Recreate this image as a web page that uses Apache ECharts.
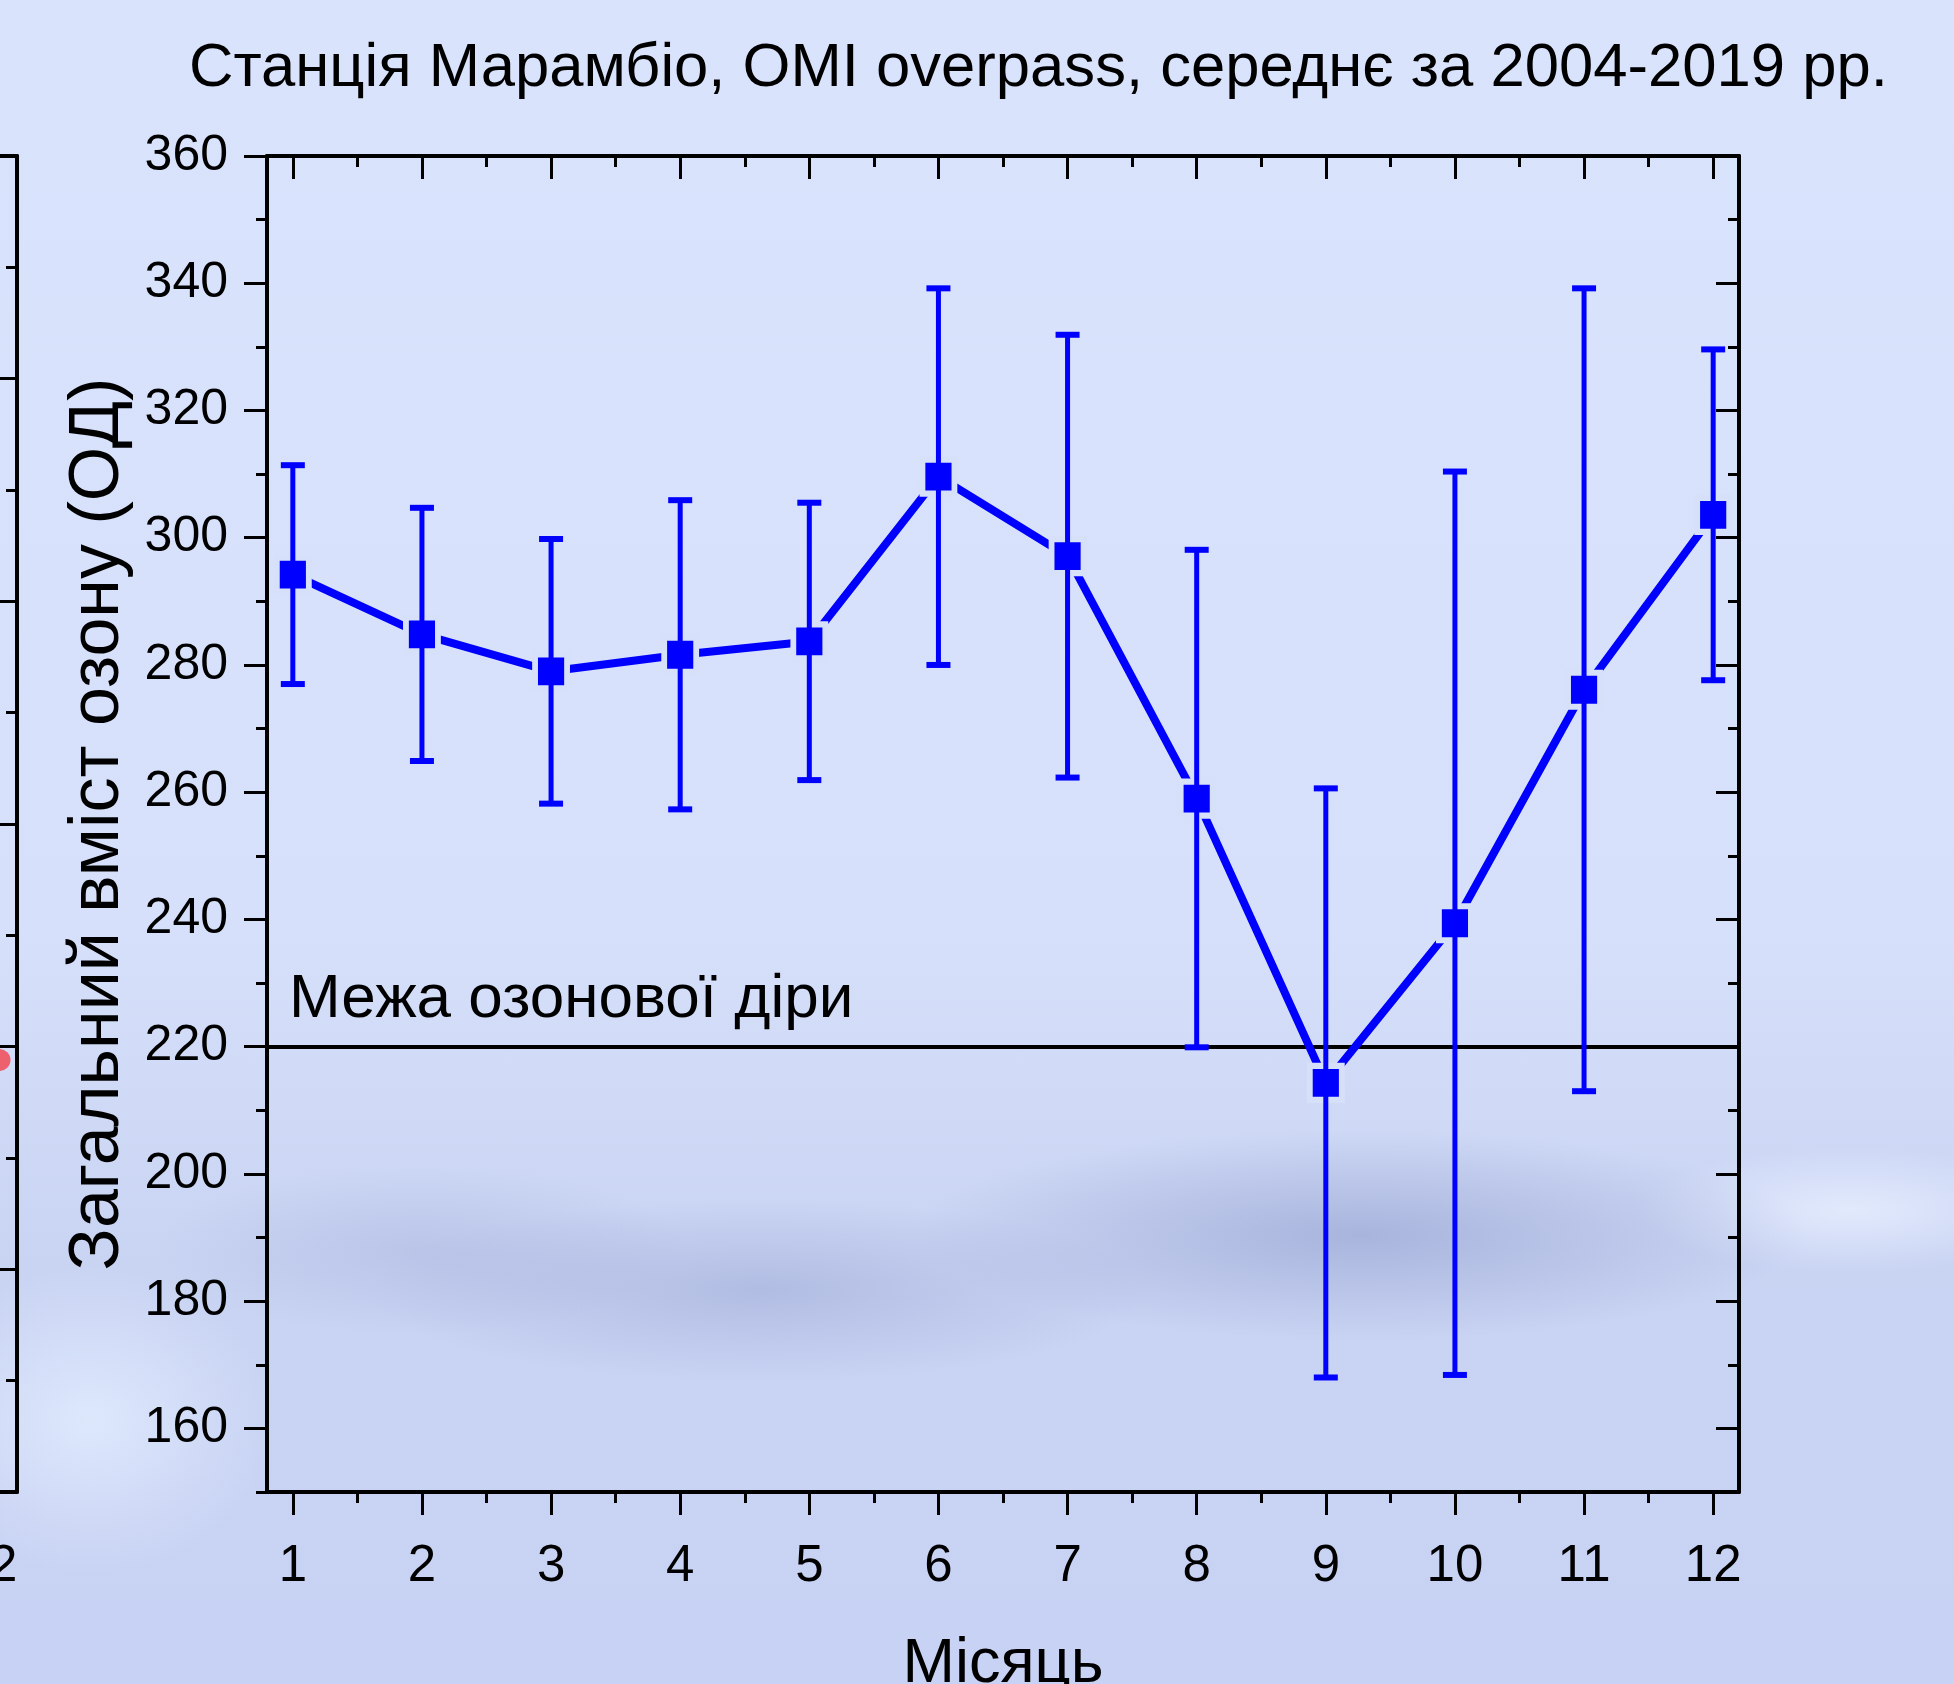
<!DOCTYPE html>
<html lang="uk">
<head>
<meta charset="UTF-8">
<title>Станція Марамбіо, OMI overpass</title>
<script src="https://cdn.jsdelivr.net/npm/echarts@6/dist/echarts.min.js"></script>
<style>
    html, body { margin: 0; padding: 0; }
    body {
        width: 1954px;
        height: 1684px;
        overflow: hidden;
        /* 浅蓝色背景 + 模糊的山体阴影 */
        background:
            radial-gradient(ellipse 640px 150px at 1360px 1235px, rgba(135, 148, 198, 0.5), rgba(135, 148, 198, 0) 70%),
            radial-gradient(ellipse 560px 130px at 760px 1290px, rgba(145, 156, 204, 0.42), rgba(145, 156, 204, 0) 70%),
            radial-gradient(ellipse 380px 120px at 420px 1250px, rgba(150, 160, 206, 0.3), rgba(150, 160, 206, 0) 70%),
            radial-gradient(ellipse 300px 90px at 1850px 1210px, rgba(235, 242, 255, 0.7), rgba(235, 242, 255, 0) 70%),
            radial-gradient(ellipse 260px 220px at 90px 1420px, rgba(228, 238, 255, 0.75), rgba(228, 238, 255, 0) 70%),
            linear-gradient(to bottom, #d9e3fc 0%, #d6e0fa 55%, #c9d4f3 75%, #c8d2f4 100%);
    }
    #ozone-chart { width: 1954px; height: 1684px; }
</style>
</head>
<body>
<div id="ozone-chart"></div>
<script>
// 月份与月平均臭氧总量（多布森单位）及误差
const months = [1, 2, 3, 4, 5, 6, 7, 8, 9, 10, 11, 12];
const ozoneMean = [294.2, 284.8, 279.0, 281.6, 283.7, 309.6, 297.1, 259.0, 214.3, 239.4, 276.1, 303.6];
const ozoneError = [17.2, 19.9, 20.8, 24.3, 21.8, 29.6, 34.8, 39.1, 46.3, 71.0, 63.1, 26.0];
const holeLimit = 220;

// 刻度
const yMajorTicks = [160, 180, 200, 220, 240, 260, 280, 300, 320, 340, 360];
const yMinorTicks = [150, 170, 190, 210, 230, 250, 270, 290, 310, 330, 350];
const xMinorTicks = [1.5, 2.5, 3.5, 4.5, 5.5, 6.5, 7.5, 8.5, 9.5, 10.5, 11.5];

// 左侧被裁掉的相邻图表残留
const neighborXTicks = [12];
const neighborPoints = [[12.075, 1.94]];

document.addEventListener('DOMContentLoaded', () => {
    const FONT = '"Liberation Sans", Arial, sans-serif';
    const BLUE = '#0000ff';
    const HALO = '#d6e0f9';

    const initChart = () => {
        const chartContainer = document.getElementById('ozone-chart');
        if (!chartContainer) return;
        const myChart = echarts.init(chartContainer, null, { renderer: 'canvas' });

        const gridBox = { left: 267, top: 156, width: 1472, height: 1336, outerBoundsMode: 'none', containLabel: false };
        const axisLine = { show: true, lineStyle: { color: '#000', width: 4 } };
        const noLine = { show: false };
        const noLabel = { show: false };
        const noSplit = { show: false };
        const majorTick = (values, inside) => ({
            show: true, inside: inside, length: 23, customValues: values,
            lineStyle: { color: '#000', width: 3 }
        });
        const minorTickAx = (values, inside) => ({
            show: true, inside: inside, length: 11, customValues: values,
            lineStyle: { color: '#000', width: 3 }
        });

        const option = {
            backgroundColor: 'transparent',
            animation: false,
            textStyle: { fontFamily: FONT },
            title: {
                text: 'Станція Марамбіо, OMI overpass, середнє за 2004-2019 рр.',
                left: 189,
                top: 38,
                padding: 0,
                textStyle: { fontFamily: FONT, fontSize: 61.6, fontWeight: 'normal', color: '#000' }
            },
            grid: [
                Object.assign({}, gridBox),                       // 主刻度
                Object.assign({}, gridBox),                       // 次刻度
                { left: -39, top: 156, width: 56, height: 1336, outerBoundsMode: 'none', containLabel: false } // 左侧残留
            ],
            xAxis: [
                {
                    gridIndex: 0, type: 'value', position: 'bottom', min: 0.8, max: 12.2,
                    axisLine: axisLine, splitLine: noSplit,
                    axisTick: majorTick(months, false),
                    axisLabel: {
                        customValues: months, margin: 49, fontSize: 51, color: '#000', fontFamily: FONT
                    },
                    name: 'Місяць', nameLocation: 'middle', nameGap: 141,
                    nameTextStyle: { fontSize: 63, color: '#000', fontFamily: FONT }
                },
                {
                    gridIndex: 0, type: 'value', position: 'top', min: 0.8, max: 12.2,
                    axisLine: axisLine, splitLine: noSplit, axisLabel: noLabel,
                    axisTick: majorTick(months, true)
                },
                {
                    gridIndex: 1, type: 'value', position: 'bottom', min: 0.8, max: 12.2,
                    axisLine: noLine, splitLine: noSplit, axisLabel: noLabel,
                    axisTick: minorTickAx(xMinorTicks, false)
                },
                {
                    gridIndex: 1, type: 'value', position: 'top', min: 0.8, max: 12.2,
                    axisLine: noLine, splitLine: noSplit, axisLabel: noLabel,
                    axisTick: minorTickAx(xMinorTicks, true)
                },
                {
                    gridIndex: 2, type: 'value', position: 'bottom', min: 11.8, max: 12.2,
                    axisLine: axisLine, splitLine: noSplit,
                    axisTick: majorTick(neighborXTicks, false),
                    axisLabel: {
                        customValues: neighborXTicks, margin: 49, fontSize: 51, color: '#000', fontFamily: FONT
                    }
                },
                {
                    gridIndex: 2, type: 'value', position: 'top', min: 11.8, max: 12.2,
                    axisLine: axisLine, splitLine: noSplit, axisLabel: noLabel, axisTick: { show: false }
                }
            ],
            yAxis: [
                {
                    gridIndex: 0, type: 'value', position: 'left', min: 150, max: 360,
                    axisLine: axisLine, splitLine: noSplit,
                    axisTick: majorTick(yMajorTicks, false),
                    axisLabel: {
                        customValues: yMajorTicks, margin: 39, fontSize: 50, color: '#000', fontFamily: FONT
                    },
                    name: 'Загальний вміст озону (ОД)', nameLocation: 'middle', nameGap: 128,
                    nameTextStyle: { fontSize: 70, color: '#000', fontFamily: FONT }
                },
                {
                    gridIndex: 0, type: 'value', position: 'right', min: 150, max: 360,
                    axisLine: axisLine, splitLine: noSplit, axisLabel: noLabel,
                    axisTick: majorTick(yMajorTicks, true)
                },
                {
                    gridIndex: 1, type: 'value', position: 'left', min: 150, max: 360,
                    axisLine: noLine, splitLine: noSplit, axisLabel: noLabel,
                    axisTick: minorTickAx(yMinorTicks, false)
                },
                {
                    gridIndex: 1, type: 'value', position: 'right', min: 150, max: 360,
                    axisLine: noLine, splitLine: noSplit, axisLabel: noLabel,
                    axisTick: minorTickAx(yMinorTicks, true)
                },
                {
                    gridIndex: 2, type: 'value', position: 'right', min: 0, max: 6, interval: 1,
                    axisLine: axisLine, splitLine: noSplit, axisLabel: noLabel,
                    axisTick: { show: true, inside: true, length: 23, lineStyle: { color: '#000', width: 3 } },
                    minorTick: { show: true, splitNumber: 2, length: 11, lineStyle: { color: '#000', width: 3 } }
                }
            ],
            series: [
                {
                    name: 'ЗВО',
                    type: 'line',
                    xAxisIndex: 0,
                    yAxisIndex: 0,
                    data: months.map((m, i) => [m, ozoneMean[i]]),
                    symbol: 'rect',
                    symbolSize: [32, 34],
                    itemStyle: { color: BLUE, borderColor: HALO, borderWidth: 6 },
                    lineStyle: { color: BLUE, width: 8 },
                    z: 3,
                    markLine: {
                        silent: true,
                        symbol: 'none',
                        lineStyle: { color: '#000', width: 4, type: 'solid' },
                        label: {
                            show: true,
                            position: 'insideStartTop',
                            formatter: 'Межа озонової діри',
                            fontSize: 62,
                            color: '#000',
                            fontFamily: FONT,
                            distance: [22, 16]
                        },
                        data: [{ yAxis: holeLimit }],
                        z: 2
                    }
                },
                {
                    // 误差棒
                    name: 'error',
                    type: 'custom',
                    xAxisIndex: 0,
                    yAxisIndex: 0,
                    data: months.map((m, i) => [m, ozoneMean[i] - ozoneError[i], ozoneMean[i] + ozoneError[i]]),
                    encode: { x: 0, y: [1, 2] },
                    z: 4,
                    renderItem: (params, api) => {
                        const x = api.value(0);
                        const lo = api.coord([x, api.value(1)]);
                        const hi = api.coord([x, api.value(2)]);
                        const half = 12;
                        const style = { stroke: BLUE, lineWidth: 5 };
                        const capStyle = { stroke: BLUE, lineWidth: 6 };
                        return {
                            type: 'group',
                            children: [
                                { type: 'line', shape: { x1: lo[0], y1: lo[1], x2: hi[0], y2: hi[1] }, style: style },
                                { type: 'line', shape: { x1: hi[0] - half, y1: hi[1], x2: hi[0] + half, y2: hi[1] }, style: capStyle },
                                { type: 'line', shape: { x1: lo[0] - half, y1: lo[1], x2: lo[0] + half, y2: lo[1] }, style: capStyle }
                            ]
                        };
                    }
                },
                {
                    name: 'neighbor',
                    type: 'scatter',
                    xAxisIndex: 4,
                    yAxisIndex: 4,
                    data: neighborPoints,
                    symbolSize: 22,
                    itemStyle: { color: '#f2424a' }
                }
            ]
        };

        myChart.setOption(option);
        window.addEventListener('resize', () => myChart.resize());
    };

    initChart();
});
</script>
</body>
</html>
